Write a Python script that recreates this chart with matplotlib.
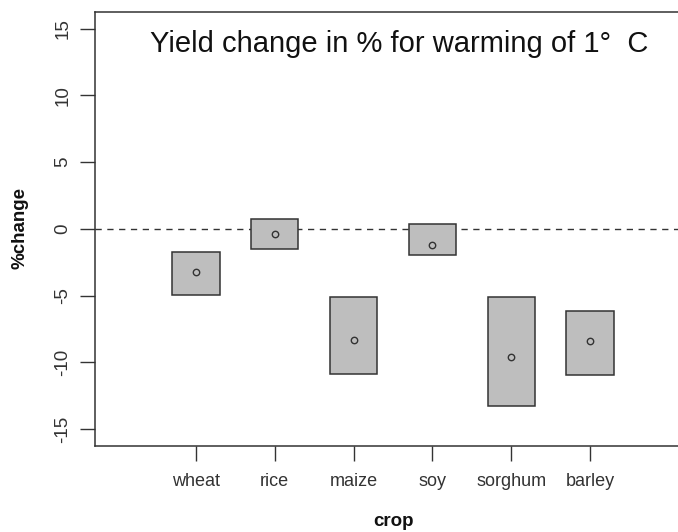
import matplotlib
matplotlib.use("Agg")
import matplotlib.pyplot as plt
from matplotlib.patches import Rectangle

crops = ["wheat", "rice", "maize", "soy", "sorghum", "barley"]
upper = [-1.75, 0.77, -5.13, 0.35, -5.12, -6.19]
lower = [-4.95, -1.50, -10.87, -1.97, -13.31, -10.96]
mean = [-3.2, -0.4, -8.34, -1.2, -9.59, -8.41]
yticks = [-15, -10, -5, 0, 5, 10, 15]

plt.rcParams['font.family'] = ['Liberation Sans', 'DejaVu Sans']

W, H = 678, 532
fig = plt.figure(figsize=(W / 100, H / 100), dpi=100)
left, right, top, bottom = 95, 691, 11.7, 445.7
ax = fig.add_axes([left / W, 1 - bottom / H, (right - left) / W, (bottom - top) / H])

x = list(range(1, len(crops) + 1))
bw = 0.6
for xi, lo, hi in zip(x, lower, upper):
    ax.add_patch(Rectangle((xi - bw / 2, lo), bw, hi - lo, facecolor="#bebebe",
                           edgecolor="#333333", linewidth=1.1, zorder=2))
ax.plot(x, mean, linestyle="none", marker="o", markersize=4.6, markerfacecolor="none",
        markeredgecolor="#333333", markeredgewidth=1.0, zorder=3)
ax.axhline(0, color="#333333", linewidth=1.0, linestyle=(0, (4.5, 4)), zorder=1)

ax.set_xlim(-0.28, 7.28)
ax.set_ylim(-16.25, 16.28)
ax.set_xticks(x)
ax.set_xticklabels(crops, fontsize=13, color="#333333")
ax.set_yticks(yticks)
ax.set_yticklabels([str(v) for v in yticks], fontsize=13.5, rotation=90, va="center",
                   color="#333333")
ax.tick_params(axis="both", direction="out", length=11, width=1, color="#333333")
ax.tick_params(axis="x", pad=9)
ax.tick_params(axis="y", pad=6)
for s in ax.spines.values():
    s.set_color("#333333")
    s.set_linewidth(1.1)

ax.text(0.51, 0.925, "Yield change in % for warming of 1\u00b0  C", transform=ax.transAxes,
        ha="center", va="center", fontsize=21, color="#111111")

fig.text(393 / W, 1 - 522 / H, "crop", ha="center", va="center", fontsize=13.5,
         fontweight="bold", color="#111111")
fig.text(20 / W, 1 - 228 / H, "%change", ha="center", va="center", rotation=90,
         fontsize=13.5, fontweight="bold", color="#111111")

fig.savefig("out.png", dpi=100)
